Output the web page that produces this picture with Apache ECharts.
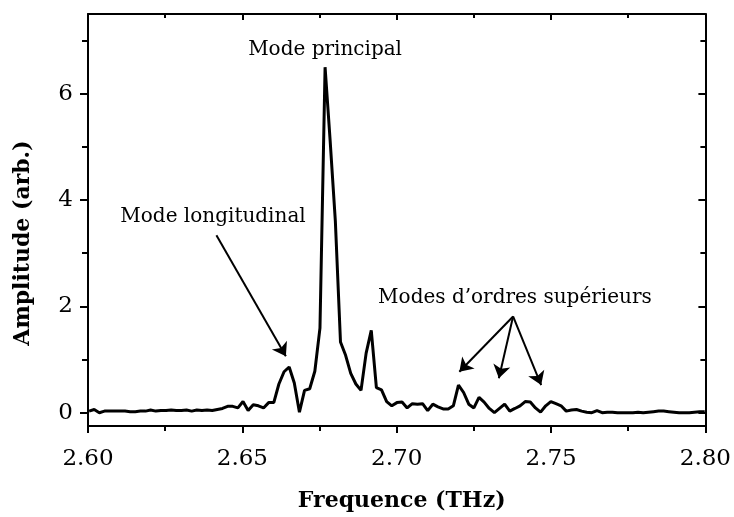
<!DOCTYPE html>
<html>
<head>
<meta charset="utf-8">
<script src="https://cdn.jsdelivr.net/npm/echarts@6/dist/echarts.min.js"></script>
<style>
  html, body { margin: 0; padding: 0; background: #ffffff; }
  #chart { width: 734px; height: 517px; }
</style>
</head>
<body>
<div id="chart"></div>
<script>
// Frequencies (THz) of the sampled spectrum
const freqs = [
  2.60035, 2.60201, 2.60367, 2.60534, 2.60700, 2.60866, 2.61032, 2.61199, 2.61365, 2.61531,
  2.61697, 2.61863, 2.62029, 2.62196, 2.62362, 2.62528, 2.62694, 2.62860, 2.63027, 2.63193,
  2.63359, 2.63525, 2.63691, 2.63858, 2.64024, 2.64190, 2.64356, 2.64522, 2.64689, 2.64855,
  2.65021, 2.65187, 2.65353, 2.65520, 2.65686, 2.65852, 2.66018, 2.66184, 2.66351, 2.66517,
  2.66683, 2.66849, 2.67015, 2.67182, 2.67348, 2.67514, 2.67680, 2.67846, 2.68013, 2.68179,
  2.68345, 2.68511, 2.68677, 2.68844, 2.69010, 2.69176, 2.69342, 2.69508, 2.69675, 2.69841,
  2.70007, 2.70173, 2.70339, 2.70506, 2.70672, 2.70838, 2.71004, 2.71170, 2.71337, 2.71503,
  2.71669, 2.71835, 2.72001, 2.72168, 2.72334, 2.72500, 2.72666, 2.72832, 2.72999, 2.73165,
  2.73331, 2.73497, 2.73663, 2.73830, 2.73996, 2.74162, 2.74328, 2.74494, 2.74661, 2.74827,
  2.74993, 2.75159, 2.75325, 2.75492, 2.75658, 2.75824, 2.75990, 2.76156, 2.76323, 2.76489,
  2.76655, 2.76821, 2.76987, 2.77154, 2.77320, 2.77486, 2.77652, 2.77818, 2.77985, 2.78151,
  2.78317, 2.78483, 2.78649, 2.78816, 2.78982, 2.79148, 2.79314, 2.79480, 2.79647, 2.79813,
  2.79979
];

// Amplitude (arb.)
const amplitudes = [
  0.03, 0.06, 0.00, 0.03, 0.03, 0.03, 0.03, 0.03, 0.02, 0.02,
  0.03, 0.03, 0.05, 0.03, 0.04, 0.04, 0.05, 0.04, 0.04, 0.05,
  0.03, 0.05, 0.04, 0.05, 0.04, 0.06, 0.08, 0.12, 0.12, 0.09,
  0.21, 0.04, 0.15, 0.13, 0.09, 0.19, 0.19, 0.54, 0.77, 0.86,
  0.56, 0.01, 0.42, 0.45, 0.78, 1.59, 6.50, 5.10, 3.60, 1.33,
  1.08, 0.74, 0.54, 0.42, 1.12, 1.55, 0.47, 0.43, 0.21, 0.13,
  0.19, 0.20, 0.09, 0.17, 0.16, 0.17, 0.04, 0.16, 0.11, 0.07,
  0.07, 0.13, 0.52, 0.38, 0.16, 0.09, 0.29, 0.20, 0.08, 0.00,
  0.08, 0.16, 0.03, 0.08, 0.13, 0.21, 0.20, 0.09, 0.01, 0.13,
  0.21, 0.17, 0.13, 0.03, 0.05, 0.06, 0.03, 0.01, 0.00, 0.04,
  0.00, 0.01, 0.01, 0.00, 0.00, 0.00, 0.00, 0.01, 0.00, 0.01,
  0.02, 0.03, 0.03, 0.02, 0.01, 0.00, 0.00, 0.00, 0.01, 0.02,
  0.02
];

// Axis ticks
const xTicks = [2.60, 2.65, 2.70, 2.75, 2.80];
const yMajorTicks = [0, 2, 4, 6];
const yMinorTicks = [1, 3, 5, 7];

// Annotation texts and anchor points (data coordinates)
const labelTexts = ['Mode principal', 'Mode longitudinal', 'Modes d\u2019ordres supérieurs'];
const labelAnchors = [[2.6768, 6.83], [2.6405, 3.69], [2.7383, 2.16]];

// Arrows: [from, to] in data coordinates
const arrowFrom = [[2.6416, 3.34], [2.7377, 1.81], [2.7377, 1.81], [2.7377, 1.81]];
const arrowTo   = [[2.6641, 1.06], [2.7203, 0.77], [2.7331, 0.65], [2.7468, 0.52]];

const FONT = 'DejaVu Serif';

const seriesData = freqs.map((f, i) => [f, amplitudes[i]]);

const chart = echarts.init(document.getElementById('chart'), null, { renderer: 'canvas' });

const baseX = {
  type: 'value', min: 2.6, max: 2.8, interval: 0.05,
  axisLine: { show: true, onZero: false, lineStyle: { color: '#000', width: 2 } },
  splitLine: { show: false }
};
const baseY = {
  type: 'value', min: -0.25, max: 7.5,
  splitLine: { show: false }
};

chart.setOption({
  animation: false,
  backgroundColor: '#ffffff',
  grid: { left: 88, right: 24, top: 14, bottom: 89, containLabel: false },
  xAxis: [
    Object.assign({}, baseX, {
      position: 'bottom',
      name: 'Frequence (THz)',
      nameLocation: 'middle',
      nameGap: 64,
      nameTextStyle: { fontFamily: FONT, fontWeight: 'bold', fontSize: 22, color: '#000', padding: [0, 0, 0, 10] },
      axisTick: { show: true, inside: false, length: 7, lineStyle: { color: '#000', width: 2 } },
      minorTick: { show: true, splitNumber: 2, length: 5, lineStyle: { color: '#000', width: 2 } },
      axisLabel: {
        show: true, margin: 22, fontFamily: FONT, fontSize: 23, color: '#000',
        formatter: v => xTicks.some(t => Math.abs(t - v) < 1e-6) ? v.toFixed(2) : ''
      }
    }),
    Object.assign({}, baseX, {
      position: 'top',
      axisTick: { show: true, inside: true, length: 6, lineStyle: { color: '#000', width: 2 } },
      minorTick: { show: true, splitNumber: 2, length: 4, lineStyle: { color: '#000', width: 2 } },
      axisLabel: { show: false }
    })
  ],
  yAxis: [
    Object.assign({}, baseY, {
      position: 'left',
      name: 'Amplitude (arb.)',
      nameLocation: 'middle',
      nameRotate: 90,
      nameGap: 54,
      nameTextStyle: { fontFamily: FONT, fontWeight: 'bold', fontSize: 22, color: '#000', padding: [0, 46, 0, 0] },
      axisLine: { show: true, onZero: false, lineStyle: { color: '#000', width: 2 } },
      axisTick: { show: true, inside: false, length: 8, customValues: yMajorTicks, lineStyle: { color: '#000', width: 2 } },
      axisLabel: { show: true, margin: 15, customValues: yMajorTicks, fontFamily: FONT, fontSize: 23, color: '#000' }
    }),
    Object.assign({}, baseY, {
      position: 'left',
      axisLine: { show: false },
      axisTick: { show: true, inside: false, length: 6, customValues: yMinorTicks, lineStyle: { color: '#000', width: 2 } },
      axisLabel: { show: false }
    }),
    Object.assign({}, baseY, {
      position: 'right',
      axisLine: { show: true, onZero: false, lineStyle: { color: '#000', width: 2 } },
      axisTick: { show: true, inside: true, length: 7, customValues: yMajorTicks, lineStyle: { color: '#000', width: 2 } },
      axisLabel: { show: false }
    }),
    Object.assign({}, baseY, {
      position: 'right',
      axisLine: { show: false },
      axisTick: { show: true, inside: true, length: 5, customValues: yMinorTicks, lineStyle: { color: '#000', width: 2 } },
      axisLabel: { show: false }
    })
  ],
  series: [{
    type: 'line',
    xAxisIndex: 0,
    yAxisIndex: 0,
    data: seriesData,
    symbol: 'none',
    clip: true,
    lineStyle: { color: '#000', width: 3 },
    emphasis: { disabled: true },
    markPoint: {
      silent: true,
      symbol: 'circle',
      symbolSize: 0,
      itemStyle: { color: 'rgba(0,0,0,0)' },
      label: {
        show: true, position: 'inside', formatter: '{b}',
        fontFamily: FONT, fontSize: 20, color: '#000'
      },
      data: labelTexts.map((t, i) => ({ name: t, coord: labelAnchors[i] }))
    },
    markLine: {
      silent: true,
      symbol: ['none', 'arrow'],
      symbolSize: 13,
      label: { show: false },
      lineStyle: { color: '#000', width: 2, type: 'solid' },
      itemStyle: { color: '#000' },
      emphasis: { disabled: true },
      data: arrowFrom.map((p, i) => [{ coord: p }, { coord: arrowTo[i] }])
    }
  }]
});
</script>
</body>
</html>
